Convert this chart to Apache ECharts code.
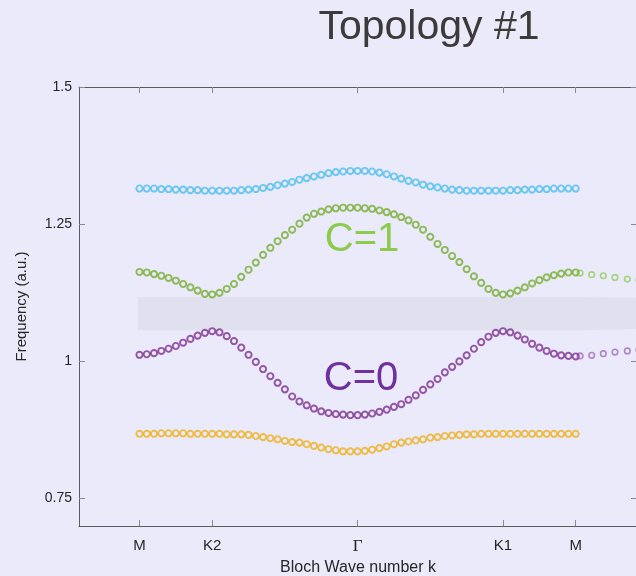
<!DOCTYPE html>
<html>
<head>
<meta charset="utf-8">
<script src="https://cdn.jsdelivr.net/npm/echarts@6/dist/echarts.min.js"></script>
<style>
  html, body { margin: 0; padding: 0; background: #EAEAFA; }
  #chart { width: 636px; height: 576px; }
</style>
</head>
<body>
<div id="chart"></div>
<script>
// Position along the Brillouin-zone path M -> K2 -> Gamma -> K1 -> M
const kPath = [
  0, 1, 2, 3, 4, 5, 6, 7, 8, 9, 10,
  11, 12, 13, 14, 15, 16, 17, 18, 19, 20,
  21, 22, 23, 24, 25, 26, 27, 28, 29, 30,
  31, 32, 33, 34, 35, 36, 37, 38, 39, 40,
  41, 42, 43, 44, 45, 46, 47, 48, 49, 50,
  51, 52, 53, 54, 55, 56, 57, 58, 59, 60
];

// High-symmetry points on the path
const tickPos = [0, 10, 30, 50, 60];
const tickNames = ['M', 'K2', 'Γ', 'K1', 'M'];
const freqTicks = [0.75, 1, 1.25, 1.5];

// Band 4 (top)
const band4 = [
  1.315, 1.315, 1.315, 1.314, 1.314, 1.313, 1.313, 1.312, 1.312, 1.311, 1.311,
  1.311, 1.311, 1.311, 1.312, 1.313, 1.314, 1.316, 1.318, 1.321, 1.324,
  1.327, 1.331, 1.334, 1.337, 1.340, 1.343, 1.345, 1.346, 1.347, 1.347,
  1.347, 1.346, 1.344, 1.341, 1.337, 1.333, 1.329, 1.326, 1.322, 1.319,
  1.317, 1.315, 1.313, 1.312, 1.311, 1.311, 1.311, 1.311, 1.311, 1.311,
  1.312, 1.312, 1.313, 1.313, 1.314, 1.314, 1.315, 1.315, 1.315, 1.315
];

// Band 3 (C=1)
const band3 = [
  1.163, 1.162, 1.159, 1.156, 1.152, 1.147, 1.141, 1.135, 1.129, 1.123, 1.122,
  1.125, 1.132, 1.141, 1.154, 1.167, 1.180, 1.194, 1.207, 1.219, 1.230,
  1.240, 1.251, 1.262, 1.269, 1.273, 1.277, 1.279, 1.280, 1.280, 1.280,
  1.279, 1.278, 1.275, 1.272, 1.268, 1.263, 1.257, 1.249, 1.240, 1.227,
  1.214, 1.203, 1.192, 1.181, 1.168, 1.155, 1.143, 1.132, 1.125, 1.122,
  1.124, 1.129, 1.135, 1.142, 1.148, 1.153, 1.157, 1.160, 1.162, 1.162
];

// Band 2 (C=0)
const band2 = [
  1.012, 1.013, 1.015, 1.019, 1.023, 1.028, 1.034, 1.041, 1.047, 1.052, 1.055,
  1.053, 1.046, 1.037, 1.025, 1.012, 0.999, 0.986, 0.973, 0.961, 0.949,
  0.936, 0.927, 0.920, 0.914, 0.909, 0.906, 0.904, 0.903, 0.902, 0.902,
  0.903, 0.905, 0.908, 0.912, 0.917, 0.922, 0.930, 0.938, 0.948, 0.958,
  0.968, 0.980, 0.990, 1.000, 1.011, 1.023, 1.035, 1.045, 1.052, 1.055,
  1.053, 1.047, 1.040, 1.032, 1.025, 1.019, 1.014, 1.011, 1.010, 1.009
];

// Band 1 (bottom)
const band1 = [
  0.868, 0.868, 0.868, 0.869, 0.869, 0.869, 0.869, 0.868, 0.868, 0.868, 0.868,
  0.868, 0.867, 0.867, 0.867, 0.866, 0.864, 0.862, 0.860, 0.858, 0.855,
  0.853, 0.852, 0.849, 0.846, 0.843, 0.840, 0.838, 0.836, 0.836, 0.836,
  0.837, 0.839, 0.842, 0.845, 0.849, 0.852, 0.854, 0.856, 0.858, 0.861,
  0.862, 0.864, 0.865, 0.866, 0.867, 0.867, 0.868, 0.868, 0.868, 0.868,
  0.868, 0.868, 0.868, 0.868, 0.868, 0.868, 0.868, 0.868, 0.868, 0.868
];

// Continuation of bands 2 and 3 past the last M point
const kExtra = [60.6, 62.2, 63.8, 65.4, 67.1, 68.7];
const band3Extra = [1.161, 1.158, 1.156, 1.153, 1.150, 1.148];
const band2Extra = [1.010, 1.011, 1.014, 1.017, 1.019, 1.021];

// Band gap between bands 2 and 3
const gapK = [-0.25, 60.9, 68.6];
const gapTop = [1.1175, 1.1175, 1.116];
const gapBottom = [1.0566, 1.0566, 1.059];

const pairs = (xs, ys) => xs.map((x, i) => [x, ys[i]]);

const FONT = '"Liberation Sans", Arial, Helvetica, sans-serif';
const AXIS_COLOR = '#5c5c5c';
const TICK_COLOR = '#8a8a94';
const LABEL_COLOR = '#262626';

function ringSeries(name, xs, ys, color, size, width) {
  return {
    name: name,
    type: 'scatter',
    data: pairs(xs, ys),
    symbol: 'circle',
    symbolSize: size,
    clip: false,
    itemStyle: { color: 'rgba(0,0,0,0)', borderColor: color, borderWidth: width },
    emphasis: { disabled: true },
    z: 3
  };
}

const chart = echarts.init(document.getElementById('chart'), null, { renderer: 'canvas' });

chart.setOption({
  backgroundColor: '#EAEAFA',
  animation: false,
  grid: { left: 79, top: 87, width: 558, height: 439, containLabel: false, outerBoundsMode: 'none' },
  xAxis: [
    {
      type: 'value', min: -8.32, max: 68.43, position: 'bottom',
      axisLine: { show: true, onZero: false, lineStyle: { color: AXIS_COLOR, width: 1 } },
      axisTick: { show: true, inside: true, length: 6, customValues: tickPos, lineStyle: { color: TICK_COLOR } },
      axisLabel: {
        show: true, customValues: tickPos, margin: 12,
        color: LABEL_COLOR, fontSize: 15, fontFamily: FONT,
        formatter: function (v) {
          const i = tickPos.indexOf(v);
          const t = i >= 0 ? tickNames[i] : '';
          return t === 'Γ' ? '{g|Γ}' : t;
        },
        rich: { g: { fontFamily: '"Liberation Serif", "DejaVu Serif", serif', fontSize: 17, color: LABEL_COLOR } }
      },
      splitLine: { show: false },
      name: 'Bloch Wave number k', nameLocation: 'middle', nameGap: 31,
      nameTextStyle: { color: LABEL_COLOR, fontSize: 16, fontFamily: FONT }
    },
    {
      type: 'value', min: -8.32, max: 68.43, position: 'top',
      axisLine: { show: true, onZero: false, lineStyle: { color: AXIS_COLOR, width: 1 } },
      axisTick: { show: true, inside: true, length: 6, customValues: tickPos, lineStyle: { color: TICK_COLOR } },
      axisLabel: { show: false },
      splitLine: { show: false }
    }
  ],
  yAxis: [
    {
      type: 'value', min: 0.7, max: 1.5, position: 'left',
      axisLine: { show: true, onZero: false, lineStyle: { color: AXIS_COLOR, width: 1 } },
      axisTick: { show: true, inside: true, length: 6, customValues: freqTicks, lineStyle: { color: TICK_COLOR } },
      axisLabel: {
        show: true, customValues: freqTicks, margin: 7,
        color: LABEL_COLOR, fontSize: 14, fontFamily: FONT,
        formatter: function (v) { return String(v); }
      },
      splitLine: { show: false },
      name: 'Frequency (a.u.)', nameLocation: 'middle', nameGap: 50,
      nameTextStyle: { color: LABEL_COLOR, fontSize: 15, fontFamily: FONT }
    },
    {
      type: 'value', min: 0.7, max: 1.5, position: 'right',
      axisLine: { show: true, onZero: false, lineStyle: { color: AXIS_COLOR, width: 1 } },
      axisTick: { show: true, inside: true, length: 6, customValues: freqTicks, lineStyle: { color: TICK_COLOR } },
      axisLabel: { show: false },
      splitLine: { show: false }
    }
  ],
  graphic: [
    {
      type: 'text', x: 429, y: 28, z: 10,
      style: { text: 'Topology #1', font: '41px ' + FONT, fill: '#3d3a3a', textAlign: 'center', textVerticalAlign: 'middle' }
    },
    {
      type: 'text', x: 362, y: 240, z: 10,
      style: { text: 'C=1', font: '40px ' + FONT, fill: '#8CCB4C', textAlign: 'center', textVerticalAlign: 'middle' }
    },
    {
      type: 'text', x: 361, y: 379, z: 10,
      style: { text: 'C=0', font: '40px ' + FONT, fill: '#7030A0', textAlign: 'center', textVerticalAlign: 'middle' }
    }
  ],
  series: [
    {
      name: 'gap',
      type: 'custom',
      data: [[0, 1]],
      clip: false,
      silent: true,
      z: 1,
      renderItem: function (params, api) {
        const pts = [];
        for (let i = 0; i < gapK.length; i++) pts.push(api.coord([gapK[i], gapTop[i]]));
        for (let i = gapK.length - 1; i >= 0; i--) pts.push(api.coord([gapK[i], gapBottom[i]]));
        return { type: 'polygon', shape: { points: pts }, style: { fill: '#E1E0EE' } };
      }
    },
    ringSeries('band3 ext', kExtra, band3Extra, '#93cf5c', 5.6, 1.6),
    ringSeries('band2 ext', kExtra, band2Extra, '#a56bb8', 5.6, 1.6),
    ringSeries('band1', kPath, band1, '#EDB120', 6.2, 1.9),
    ringSeries('band2', kPath, band2, '#7E2F8E', 6.2, 1.9),
    ringSeries('band3', kPath, band3, '#77AC30', 6.2, 1.9),
    ringSeries('band4', kPath, band4, '#4DBEEE', 6.2, 1.9)
  ]
});
</script>
</body>
</html>
